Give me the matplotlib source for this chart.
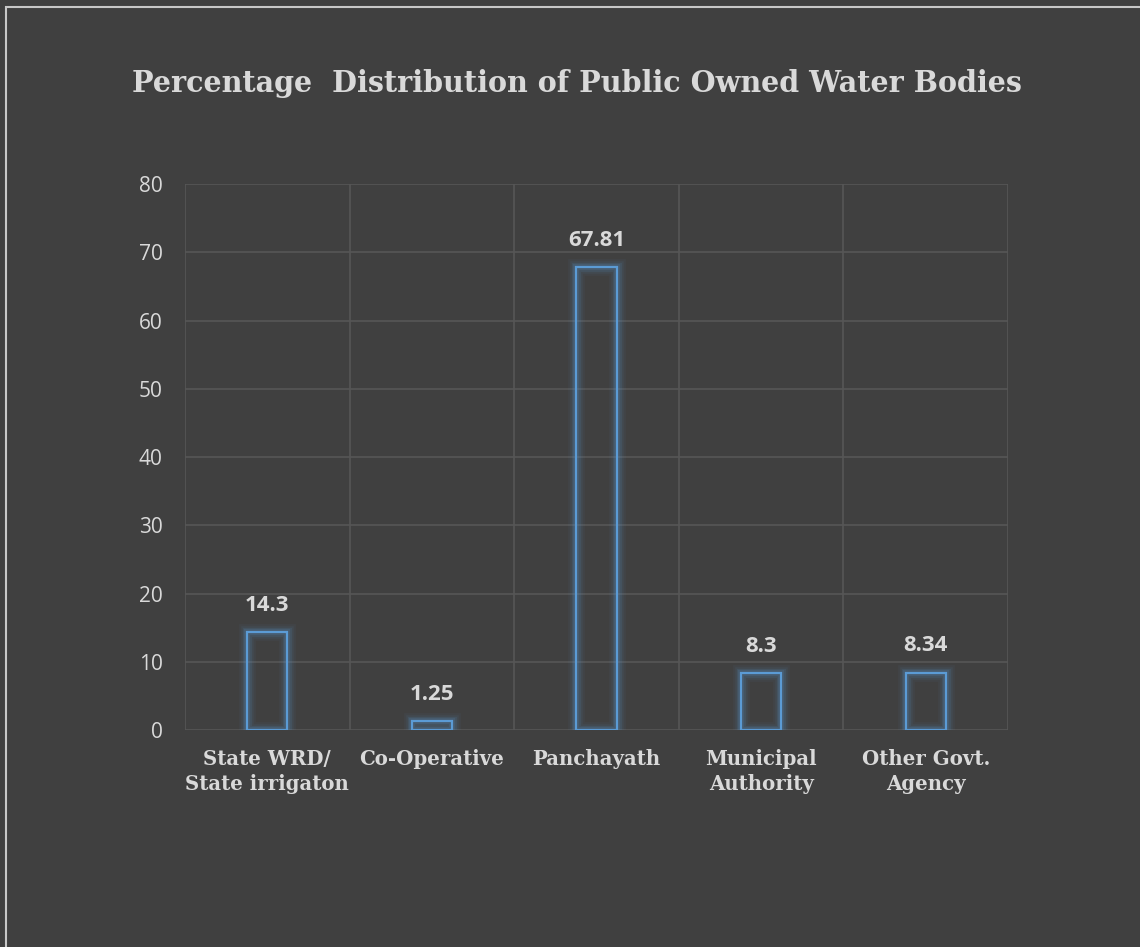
import matplotlib.pyplot as plt
from matplotlib.patches import Rectangle

categories = ["State WRD/\nState irrigaton", "Co-Operative", "Panchayath",
              "Municipal\nAuthority", "Other Govt.\nAgency"]
values = [14.3, 1.25, 67.81, 8.3, 8.34]
value_labels = ["14.3", "1.25", "67.81", "8.3", "8.34"]
yticks = [0, 10, 20, 30, 40, 50, 60, 70, 80]

bg = "#404040"
grid_col = "#565656"
text_col = "#d9d9d9"
bar_col = "#5b9bd5"

fig = plt.figure(figsize=(11.4, 9.47), dpi=100)
fig.patch.set_facecolor(bg)
# thin light frame on the left/top edge
fig.add_artist(Rectangle((6 / 1140, -0.1), 1.2, 1 - 7 / 947 + 0.1,
                         transform=fig.transFigure, fill=False,
                         edgecolor="#c8c8c8", linewidth=1.5))

ax = fig.add_axes([185 / 1140, 1 - 730 / 947, 823 / 1140, 546 / 947])
ax.set_facecolor(bg)

x = list(range(len(categories)))
width = 0.245

# soft glow around the bars
for lw, a in [(12, 0.05), (9, 0.07), (6.5, 0.1), (4.5, 0.15)]:
    ax.bar(x, values, width=width, fill=False, edgecolor=bar_col,
           linewidth=lw, alpha=a, zorder=3)
ax.bar(x, values, width=width, fill=False, edgecolor=bar_col,
       linewidth=1.6, zorder=4)

for xi, v, lab in zip(x, values, value_labels):
    ax.annotate(lab, (xi, v), xytext=(0, 12), textcoords="offset points",
                ha="center", va="bottom", color=text_col, fontsize=16,
                fontweight="bold", family="Open Sans")

ax.set_xlim(-0.5, len(categories) - 0.5)
ax.set_ylim(0, 80)
ax.set_yticks(yticks)
ax.set_xticks(x)
ax.set_xticklabels(categories, family="DejaVu Serif", fontweight="bold",
                   fontsize=14.2, color=text_col, linespacing=1.3)
for t in ax.get_yticklabels():
    t.set_family("Open Sans")
    t.set_fontsize(15)
    t.set_color(text_col)

# vertical category dividers and horizontal grid
ax.set_xticks([i - 0.5 for i in range(len(categories) + 1)], minor=True)
ax.grid(True, which="minor", axis="x", color=grid_col, linewidth=1.2)
ax.grid(True, which="major", axis="y", color=grid_col, linewidth=1.2)
ax.set_axisbelow(True)
ax.tick_params(axis="both", which="both", length=0)
ax.tick_params(axis="x", pad=14)
ax.tick_params(axis="y", pad=16)
for s in ax.spines.values():
    s.set_visible(False)

fig.text(577 / 1140, 1 - 83 / 947, "Percentage  Distribution of Public Owned Water Bodies",
         ha="center", va="center", color=text_col, fontsize=20.6,
         fontweight="bold", family="DejaVu Serif")

fig.savefig("out.png", dpi=100, facecolor=bg)
